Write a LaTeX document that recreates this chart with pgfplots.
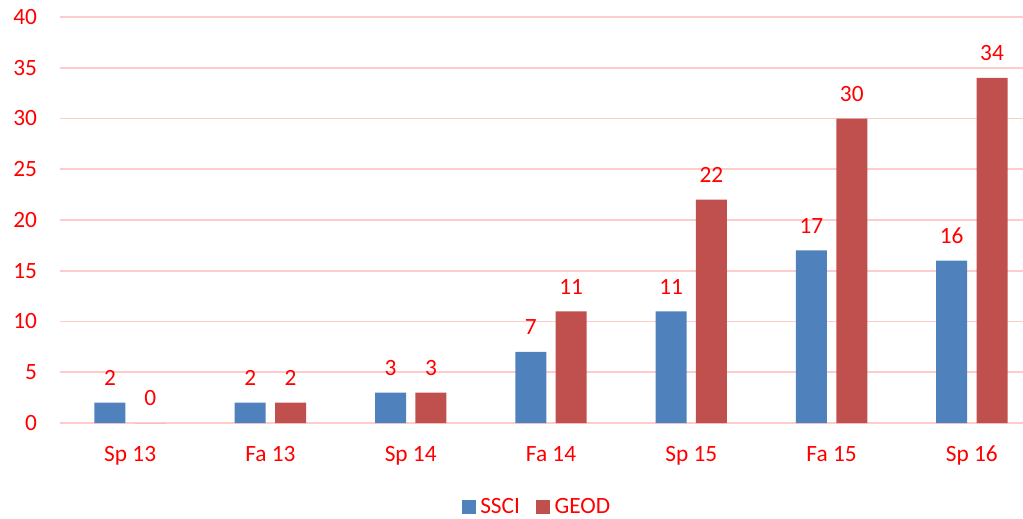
\documentclass[border=0pt]{standalone}
\usepackage{pgfplots}
\pgfplotsset{compat=1.18}
\usepackage{fontspec}
\setmainfont{Carlito}
\definecolor{barblue}{HTML}{4F81BD}
\definecolor{barred}{HTML}{C0504D}
\definecolor{txtred}{HTML}{FF0000}
\definecolor{gridpink}{HTML}{FFCCCC}
\begin{document}
\begin{tikzpicture}
\useasboundingbox (-45pt,-71.25pt) rectangle (722.25pt,317.25pt);
\fontsize{17.5}{20}\selectfont
\begin{axis}[
  at={(0,0)}, anchor=south west,
  scale only axis, width=736.5pt, height=304.5pt,
  ybar, ymin=0, ymax=40, ytick={0,5,...,40},
  xmin=-0.5, xmax=6.5, xtick={0,...,6},
  xticklabels={Sp 13,Fa 13,Sp 14,Fa 14,Sp 15,Fa 15,Sp 16},
  axis line style={draw=none},
  major tick length=0pt,
  ymajorgrids, grid style={gridpink, line width=1.2pt},
  /pgf/number format/assume math mode=true,
  tick label style={font=\fontsize{17.5}{20}\selectfont, text=txtred},
  yticklabel style={anchor=east, inner sep=0pt, xshift=-17pt},
  xticklabel style={anchor=base, inner sep=0pt, yshift=-29pt},
  bar width=23.25pt,
  nodes near coords,
  every node near coord/.append style={font=\fontsize{17.5}{20}\selectfont, text=txtred, anchor=base, inner sep=0pt, yshift=13pt},
  legend columns=-1,
  legend style={draw=none, at={(0.486,-0.208)}, anchor=center, font=\fontsize{17.5}{20}\selectfont, text=txtred,
    /tikz/every even column/.append style={column sep=10pt},
    /tikz/every odd column/.append style={column sep=1.5pt}},
  legend image code/.code={\fill[#1] (0pt,-5.25pt) rectangle (10.5pt,5.25pt);},
]
\addplot[fill=barblue, draw=none, bar shift=-15.15pt] coordinates {(0,2) (1,2) (2,3) (3,7) (4,11) (5,17) (6,16)};
\addplot[fill=barred, draw=none, bar shift=15.15pt] coordinates {(0,0) (1,2) (2,3) (3,11) (4,22) (5,30) (6,34)};
\legend{SSCI,GEOD}
\end{axis}
\end{tikzpicture}
\end{document}
